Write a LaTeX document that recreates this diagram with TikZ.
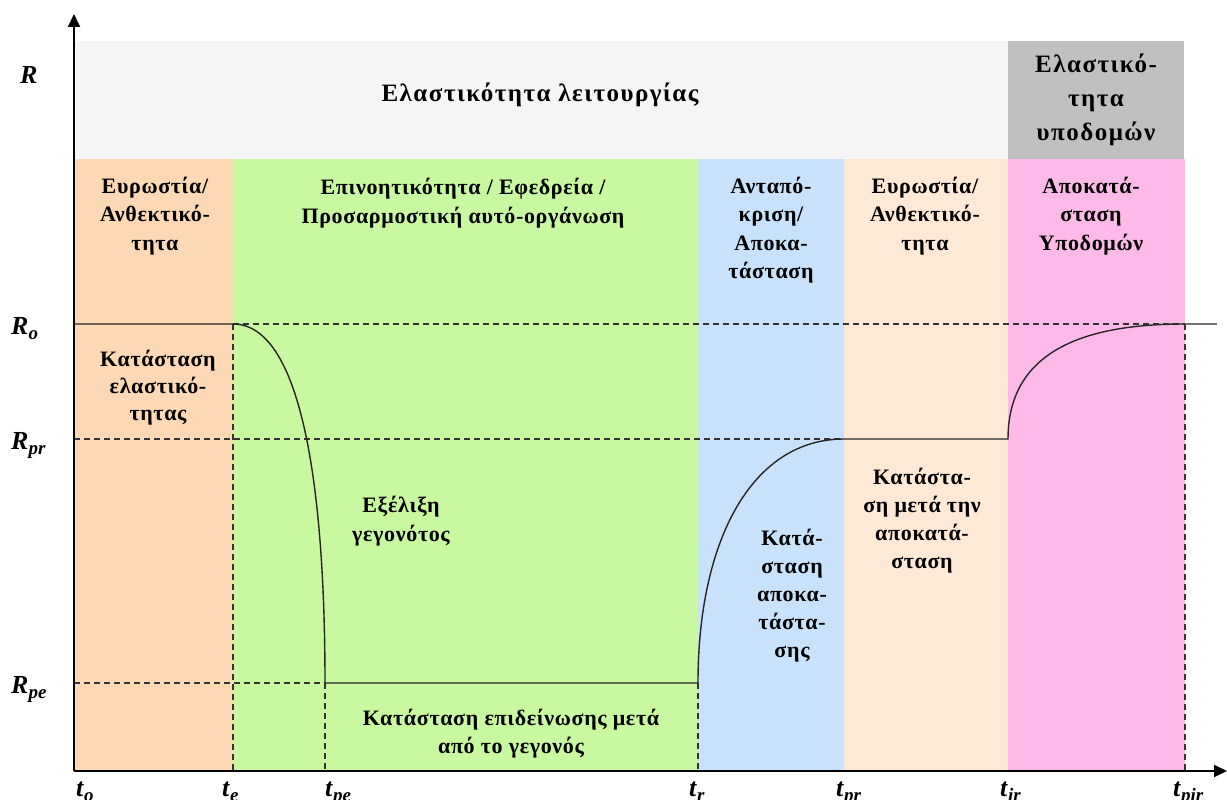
\documentclass[tikz,border=0pt]{standalone}
\usepackage{fontspec}
\setmainfont{Liberation Serif}
\newfontfamily\gk{Liberation Serif}[LetterSpace=3]
\newfontfamily\gkt{Liberation Serif}[LetterSpace=6]
\usetikzlibrary{arrows.meta}
\definecolor{bandgrey}{HTML}{F5F5F5}
\definecolor{boxgrey}{HTML}{C0C0C0}
\definecolor{corange}{HTML}{FCD8B4}
\definecolor{cgreen}{HTML}{C8F8A0}
\definecolor{cblue}{HTML}{C8E2FC}
\definecolor{cpeach}{HTML}{FDE9D5}
\definecolor{cpink}{HTML}{FDBAE8}
\newcommand{\axl}[2]{\textbf{\textit{#1}}\raisebox{-0.5ex}{\fontsize{19}{19}\selectfont\bfseries\itshape #2}}
\begin{document}
\begin{tikzpicture}[x=1pt,y=-1pt,
  txt/.style={font=\gk\fontsize{22}{28.5}\selectfont\bfseries, align=center, text=black, inner sep=0pt},
  ttl/.style={font=\gkt\fontsize{25}{34}\selectfont\bfseries, align=center, text=black, inner sep=0pt},
  axlab/.style={font=\fontsize{26}{26}\selectfont, inner sep=0pt, anchor=base west},
  axis/.style={line width=1.8pt, -{Triangle[length=13pt,width=12pt]}},
  curve/.style={line width=1.4pt, black!85},
  guide/.style={line width=1.2pt, dash pattern=on 6pt off 4pt, black!80}
]
\useasboundingbox (0,0) rectangle (1227,800);
% backgrounds
\fill[bandgrey] (74,41) rectangle (1008,159);
\fill[boxgrey] (1008,41) rectangle (1184,159);
\fill[corange] (74,159) rectangle (233,771);
\fill[cgreen] (233,159) rectangle (698,771);
\fill[cblue] (698,159) rectangle (844,771);
\fill[cpeach] (844,159) rectangle (1008,771);
\fill[cpink] (1008,159) rectangle (1185,771);
% key points
\coordinate (O) at (74,771);
\coordinate (Ytop) at (74,14);
\coordinate (Xend) at (1227,771);
\coordinate (Ro0) at (74,324);
\coordinate (Re) at (233,324);
\coordinate (Rpir) at (1185,324);
\coordinate (Rend) at (1217,324);
\coordinate (Rpr0) at (74,439);
\coordinate (Rpr) at (844,439);
\coordinate (Rir) at (1008,439);
\coordinate (Rpe0) at (74,683);
\coordinate (Rpe) at (325,683);
\coordinate (Rr) at (698,683);
\coordinate (te) at (233,771);
\coordinate (tpe) at (325,771);
\coordinate (tr) at (698,771);
\coordinate (tpir) at (1185,771);
% dashed guides
\draw[guide] (Re) -- (Rpir);
\draw[guide] (Rpr0) -- (Rpr);
\draw[guide] (Rpe0) -- (Rpe);
\draw[guide] (Re) -- (te);
\draw[guide] (Rpe) -- (tpe);
\draw[guide] (Rr) -- (tr);
\draw[guide] (Rpir) -- (tpir);
% resilience curve
\draw[curve] (Ro0) -- (Re) .. controls (300,324) and (325,480) .. (Rpe) -- (Rr)
  .. controls (698,540) and (752,439) .. (Rpr) -- (Rir)
  .. controls (1008,345) and (1095,324) .. (Rpir);
\draw[line width=1.4pt, black!55] (Rpir) -- (Rend);
% axes
\draw[axis] (O) -- (Ytop);
\draw[axis] (O) -- (Xend);
% texts
\node[ttl] (t1) at (540,95) {Ελαστικότητα λειτουργίας};
\node[ttl] (t2) at (1096,100) {Ελαστικό-\\τητα\\υποδομών};
\node[txt] (c1) at (155,216) {Ευρωστία/\\Ανθεκτικό-\\τητα};
\node[txt] (c2) at (463,203) {Επινοητικότητα / Εφεδρεία /\\Προσαρμοστική αυτό-οργάνωση};
\node[txt] (c3) at (771,230) {Ανταπό-\\κριση/\\Αποκα-\\τάσταση};
\node[txt] (c4) at (925,216) {Ευρωστία/\\Ανθεκτικό-\\τητα};
\node[txt] (c5) at (1091,216) {Αποκατά-\\σταση\\Υποδομών};
\node[txt, font=\gk\fontsize{22}{27}\selectfont\bfseries] (s1) at (158,388) {Κατάσταση\\ελαστικό-\\τητας};
\node[txt] (s2) at (401,521) {Εξέλιξη\\γεγονότος};
\node[txt, font=\gk\fontsize{22}{28}\selectfont\bfseries] (s3) at (511,734) {Κατάσταση επιδείνωσης μετά\\από το γεγονός};
\node[txt, font=\gk\fontsize{22}{28}\selectfont\bfseries] (s4) at (792,596) {Κατά-\\σταση\\αποκα-\\τάστα-\\σης};
\node[txt, font=\gk\fontsize{22}{28}\selectfont\bfseries] (s5) at (922,521) {Κατάστα-\\ση μετά την\\αποκατά-\\σταση};
% axis labels
\node[axlab] (lR) at (20,84) {\textbf{\textit{R}}};
\node[axlab] (lRo) at (11,334) {\axl{R}{o}};
\node[axlab] (lRpr) at (11,449) {\axl{R}{pr}};
\node[axlab] (lRpe) at (11,693) {\axl{R}{pe}};
\node[axlab] (lto) at (76,796) {\axl{t}{o}};
\node[axlab] (lte) at (222,796) {\axl{t}{e}};
\node[axlab] (ltpe) at (325,796) {\axl{t}{pe}};
\node[axlab] (ltr) at (689,796) {\axl{t}{r}};
\node[axlab] (ltpr) at (836,796) {\axl{t}{pr}};
\node[axlab] (ltir) at (1000,796) {\axl{t}{ir}};
\node[axlab] (ltpir) at (1173,796) {\axl{t}{pir}};
\end{tikzpicture}
\end{document}
